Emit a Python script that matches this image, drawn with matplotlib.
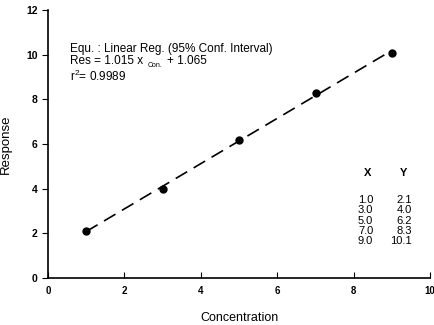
import numpy as np
import matplotlib
matplotlib.use("Agg")
import matplotlib.pyplot as plt

# Data
conc = [1.0, 3.0, 5.0, 7.0, 9.0]
resp = [2.1, 4.0, 6.2, 8.3, 10.1]
slope = 1.015
intercept = 1.065
r2 = 0.9989

plt.rcParams["font.family"] = ["Liberation Sans", "DejaVu Sans"]
plt.rcParams["mathtext.fontset"] = "custom"
plt.rcParams["mathtext.rm"] = "Liberation Sans"

fig = plt.figure(figsize=(4.35, 3.25), dpi=100)
ax = fig.add_axes([0.110, 0.1446, 0.879, 0.824])

# Regression line over the data range
xl = np.array([min(conc), max(conc)])
ax.plot(xl, slope * xl + intercept, color="black", linewidth=1.2, dashes=(8, 4.5))
ax.plot(conc, resp, "o", color="black", markersize=5)

ax.set_xlim(0, 10)
ax.set_ylim(0, 12)
ax.set_xticks(range(0, 11, 2))
ax.set_yticks(range(0, 13, 2))
for s in ["top", "right"]:
    ax.spines[s].set_visible(False)
ax.spines["left"].set_linewidth(1.2)
ax.spines["bottom"].set_linewidth(1.2)
ax.tick_params(axis="x", direction="in", length=4, labelsize=7, pad=6)
ax.tick_params(axis="y", direction="out", length=4, labelsize=7.5)
for lab in ax.get_xticklabels() + ax.get_yticklabels():
    lab.set_fontweight("bold")

ax.set_xlabel("Concentration", fontsize=9, labelpad=11)
ax.set_ylabel("Response", fontsize=9.5, labelpad=10)

# Equation text
ax.text(0.58, 10.12, "Equ. : Linear Reg. (95% Conf. Interval)", fontsize=8.5, va="baseline")
ax.text(0.58, 9.59, "Res = %.3f x" % slope, fontsize=8.5, va="baseline")
ax.text(2.6, 9.46, "Con.", fontsize=5, va="baseline")
ax.text(3.12, 9.59, "+ %.3f" % intercept, fontsize=8.5, va="baseline")
ax.text(0.58, 8.83, r"r$^{2}$= %.4f" % r2, fontsize=8.5, va="baseline")

# Data table
ax.text(8.35, 4.7, "X", fontsize=8, fontweight="bold", ha="center", va="center")
ax.text(9.3, 4.7, "Y", fontsize=8, fontweight="bold", ha="center", va="center")
for i, (x, y) in enumerate(zip(conc, resp)):
    yy = 3.49 - i * 0.46
    ax.text(8.51, yy, "%.1f" % x, fontsize=8, ha="right", va="center")
    ax.text(9.52, yy, "%.1f" % y, fontsize=8, ha="right", va="center")

fig.savefig("out.png", dpi=100)
